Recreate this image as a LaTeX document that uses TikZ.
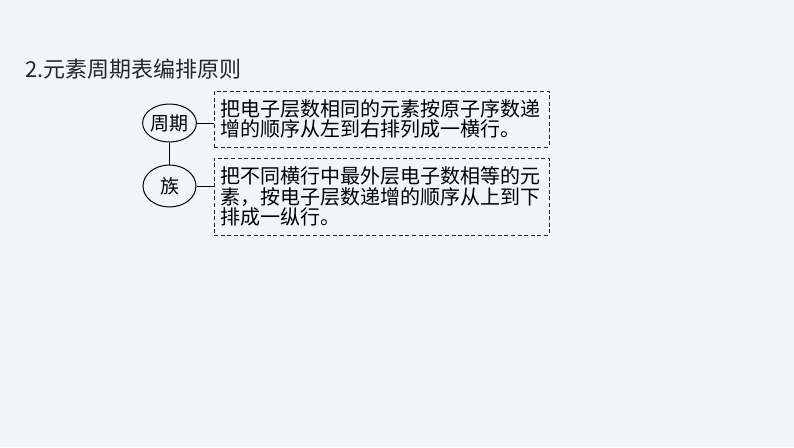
\documentclass[tikz,border=0pt]{standalone}
\usepackage{fontspec}
\setmainfont{Noto Sans CJK SC}
\usetikzlibrary{shapes.geometric}
\definecolor{bgblue}{HTML}{F1F6FD}
\definecolor{inkgray}{HTML}{262626}

\begin{document}
\begin{tikzpicture}[x=1pt,y=-1pt,-,line width=0.8pt,
    main node/.style={ellipse,draw,line width=1pt,inner sep=0pt,minimum width=53pt,minimum height=38pt,font=\fontsize{19}{20}\selectfont},
    text box/.style={draw=inkgray,dash pattern=on 4pt off 2.6pt,inner xsep=6pt,inner ysep=0pt,text width=323pt,align=left,font=\fontsize{20}{20.5}\selectfont}]

            \fill[bgblue] (0,0) rectangle (794,447);
            \useasboundingbox (0,0) rectangle (794,447);

            \node[anchor=west,inner sep=0pt,text=inkgray,font=\fontsize{22}{24}\selectfont] (title) at (25,69) {2.元素周期表编排原则};

            \node[main node] (1) at (169.5,123) {周期};
            \node[main node,minimum height=42pt] (2) at (169.5,186) {族};
            \node[text box,minimum height=56pt] (a) at (381.5,119) {把电子层数相同的元素按原子序数递\\增的顺序从左到右排列成一横行。};
            \node[text box,minimum height=77pt] (b) at (381.5,196.5) {把不同横行中最外层电子数相等的元\\素，按电子层数递增的顺序从上到下\\排成一纵行。};

            \path[draw]
                (1) edge (1 -| a.west)
                (2) edge (2 -| b.west)
                (1) edge (2)
                ;
        \end{tikzpicture}
\end{document}
